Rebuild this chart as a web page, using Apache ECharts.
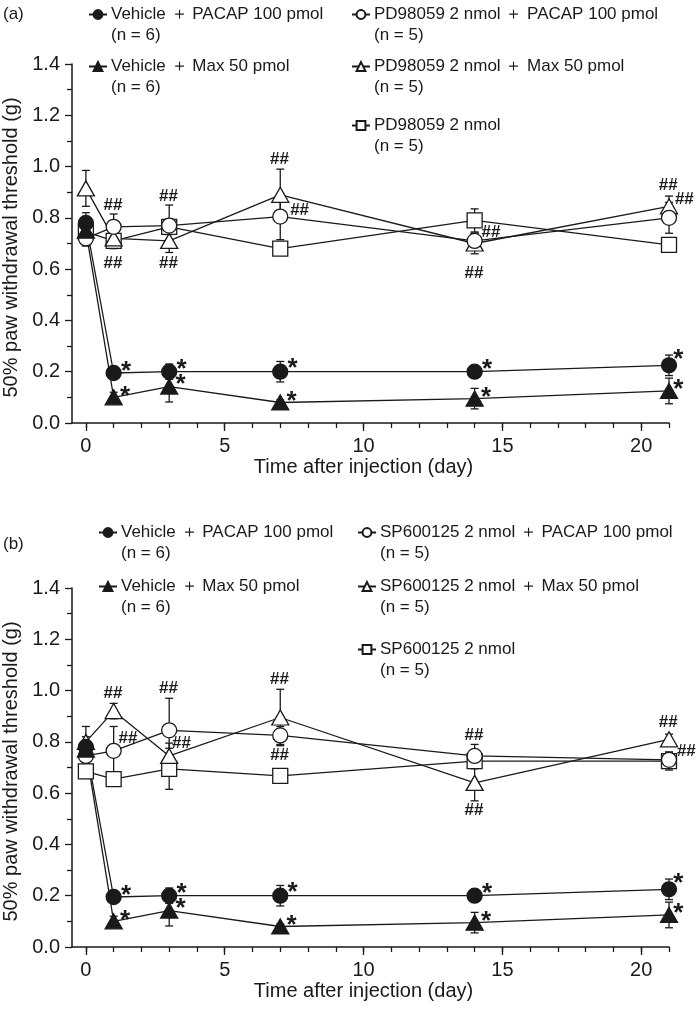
<!DOCTYPE html>
<html>
<head>
<meta charset="utf-8">
<script src="https://cdn.jsdelivr.net/npm/echarts@6/dist/echarts.min.js"></script>
<style>
html,body{margin:0;padding:0;background:#fff;}
#chart{width:700px;height:1009px;}
</style>
</head>
<body>
<div id="chart"></div>
<script>
// ---------- DATA ----------
const days = [0, 1, 3, 7, 14, 21];
const xTickValues = [0,1,2,3,4,5,6,7,8,9,10,11,12,13,14,15,16,17,18,19,20,21];
const xLabelValues = [0, 5, 10, 15, 20];

// Panel (a)
const aVehPacap     = [0.78, 0.195, 0.20, 0.20, 0.20, 0.225];
const aVehPacapErr  = [0.04, 0.02, 0.03, 0.04, 0.02, 0.04];
const aVehMax       = [0.75, 0.10, 0.142, 0.08, 0.095, 0.125];
const aVehMaxErr    = [0.03, 0.02, 0.06, 0.01, 0.04, 0.05];
const aPdPacap      = [0.72, 0.765, 0.77, 0.805, 0.71, 0.80];
const aPdPacapErr   = [0.03, 0.05, 0.08, 0.09, 0.03, 0.06];
const aPdMax        = [0.915, 0.72, 0.71, 0.89, 0.70, 0.845];
const aPdMaxErr     = [0.07, 0.04, 0.045, 0.10, 0.04, 0.04];
const aPd           = [0.745, 0.71, 0.765, 0.68, 0.79, 0.695];
const aPdErr        = [0.03, 0.02, 0.03, 0.02, 0.045, 0.02];

// Panel (b)
const bVehPacap     = [0.78, 0.195, 0.20, 0.20, 0.20, 0.225];
const bVehPacapErr  = [0.04, 0.02, 0.03, 0.04, 0.02, 0.04];
const bVehMax       = [0.77, 0.10, 0.142, 0.08, 0.095, 0.125];
const bVehMaxErr    = [0.03, 0.02, 0.06, 0.01, 0.04, 0.05];
const bSpPacap      = [0.745, 0.765, 0.845, 0.825, 0.745, 0.73];
const bSpPacapErr   = [0.03, 0.095, 0.125, 0.035, 0.045, 0.03];
const bSpMax        = [0.80, 0.92, 0.745, 0.895, 0.64, 0.81];
const bSpMaxErr     = [0.06, 0.03, 0.05, 0.11, 0.07, 0.02];
const bSp           = [0.685, 0.655, 0.695, 0.667, 0.725, 0.725];
const bSpErr        = [0.02, 0.02, 0.08, 0.02, 0.03, 0.035];

// significance marks
const starSig  = ['', '*', '*', '*', '*', '*'];
const hashSig  = ['', '##', '##', '##', '##', '##'];
const noSig    = ['', '', '', '', '', ''];
const bSpSig   = ['', '', '', '', '', '##'];
const bSpPacapSig = ['', '##', '##', '##', '##', ''];

// names
const namesA = ['Vehicle ＋ PACAP 100 pmol', 'Vehicle ＋ Max 50 pmol', 'PD98059 2 nmol ＋ PACAP 100 pmol', 'PD98059 2 nmol ＋ Max 50 pmol', 'PD98059 2 nmol'];
const namesB = ['Vehicle ＋ PACAP 100 pmol', 'Vehicle ＋ Max 50 pmol', 'SP600125 2 nmol ＋ PACAP 100 pmol', 'SP600125 2 nmol ＋ Max 50 pmol', 'SP600125 2 nmol'];
const nA = ['(n = 6)', '(n = 6)', '(n = 5)', '(n = 5)', '(n = 5)'];
const nB = ['(n = 6)', '(n = 6)', '(n = 5)', '(n = 5)', '(n = 5)'];
const yTitle = '50% paw withdrawal threshold (g)';
const xTitle = 'Time after injection (day)';

// ---------- STYLE / LAYOUT ----------
const INK = '#1a1a1a';
const FONT = 'Liberation Sans, Arial, sans-serif';
const gridTop = [64, 588];
const gridH = 359;

// label offsets (pixels, relative to point centre) for significance marks
const starOffC = [[0,0],[13,-1],[13,-1],[13,-2],[13,-1],[10,-5]];
const starOffT = [[0,0],[12,0],[12,-1],[12,0],[12,0],[10,-1]];
const offA_circ = [[0,0],[0,-21],[0,-29],[20,-6],[17,-8],[16,-18]];
const offA_tri  = [[0,0],[0,26],[0,23],[0,-35],[0,30],[0,-20]];
const offB_circ = [[0,0],[15,-12],[0,-41],[0,21],[0,-20],[0,0]];
const offB_tri  = [[0,0],[0,-17],[13,-12],[0,-38],[0,28],[0,-16]];
const offB_sq   = [[0,0],[0,0],[0,0],[0,0],[0,0],[18,-9]];
const zeroOff = days.map(() => [0,0]);

const symbols = [
  {symbol: 'circle', size: 15, fill: INK},
  {symbol: 'triangle', size: [17, 15], fill: INK},
  {symbol: 'circle', size: 15, fill: '#fff'},
  {symbol: 'triangle', size: [17, 15], fill: '#fff'},
  {symbol: 'rect', size: 15, fill: '#fff'}
];

function buildLine(name, vals, sig, offs, sym, panel, isStar) {
  const sz = Array.isArray(sym.size) ? sym.size : [sym.size, sym.size];
  return {
    type: 'line', name: name,
    xAxisIndex: panel * 2, yAxisIndex: panel,
    symbol: sym.symbol, symbolSize: sym.size,
    itemStyle: {color: sym.fill, borderColor: INK, borderWidth: 1.3, opacity: 1},
    lineStyle: {color: INK, width: 1.3},
    z: 3, animation: false,
    data: days.map((d, i) => {
      const item = {value: [d, vals[i]]};
      if (sig[i]) {
        item.label = {
          show: true, formatter: sig[i],
          position: [sz[0] / 2 + offs[i][0], sz[1] / 2 + offs[i][1]],
          align: 'center', verticalAlign: 'middle',
          fontFamily: FONT, fontWeight: 'bold',
          fontSize: isStar ? 26 : 17, color: INK
        };
      }
      return item;
    })
  };
}

function buildErr(vals, errs, panel) {
  return {
    type: 'custom', xAxisIndex: panel * 2, yAxisIndex: panel, z: 2, silent: true,
    animation: false,
    renderItem: function (params, api) {
      const x = api.value(0), y = api.value(1), e = api.value(2);
      const t = api.coord([x, y + e]);
      const b = api.coord([x, y - e]);
      const c = 4;
      const st = {stroke: INK, lineWidth: 1.3};
      return {type: 'group', children: [
        {type: 'line', shape: {x1: t[0], y1: t[1], x2: b[0], y2: b[1]}, style: st},
        {type: 'line', shape: {x1: t[0] - c, y1: t[1], x2: t[0] + c, y2: t[1]}, style: st},
        {type: 'line', shape: {x1: b[0] - c, y1: b[1], x2: b[0] + c, y2: b[1]}, style: st}
      ]};
    },
    encode: {x: 0, y: 1},
    data: days.map((d, i) => [d, vals[i], errs[i]])
  };
}

const panelsData = [
  {names: namesA, ns: nA, vals: [aVehPacap, aVehMax, aPdPacap, aPdMax, aPd], errs: [aVehPacapErr, aVehMaxErr, aPdPacapErr, aPdMaxErr, aPdErr],
   sigs: [starSig, starSig, hashSig, hashSig, noSig], offs: [starOffC, starOffT, offA_circ, offA_tri, zeroOff], tag: '(a)'},
  {names: namesB, ns: nB, vals: [bVehPacap, bVehMax, bSpPacap, bSpMax, bSp], errs: [bVehPacapErr, bVehMaxErr, bSpPacapErr, bSpMaxErr, bSpErr],
   sigs: [starSig, starSig, bSpPacapSig, hashSig, bSpSig], offs: [starOffC, starOffT, offB_circ, offB_tri, offB_sq], tag: '(b)'}
];

const grids = [], xAxes = [], yAxes = [], series = [], legends = [], graphics = [];
// legend layout: [markerLeft, row top] for each series, per panel (absolute)
const legPos = [
  [[88, 6], [88, 58], [351, 6], [351, 58], [351, 117]],
  [[98, 524], [98, 578], [357, 524], [357, 578], [357, 641]]
];
const tagTop = [6, 536];

panelsData.forEach((P, p) => {
  grids.push({left: 72, right: 31, top: gridTop[p], height: gridH, outerBoundsMode: 'none', containLabel: false});
  xAxes.push({
    type: 'value', gridIndex: p, min: -0.5, max: 21,
    name: xTitle, nameLocation: 'middle', nameGap: 34,
    nameTextStyle: {fontFamily: FONT, fontSize: 20, color: INK, padding: [0, 14, 0, 0]},
    axisLine: {show: true, onZero: false, lineStyle: {color: INK, width: 1.5}},
    axisTick: {show: true, inside: false, length: 8, customValues: xLabelValues, lineStyle: {color: INK, width: 1.3}},
    axisLabel: {show: true, customValues: xLabelValues, margin: 13, fontFamily: FONT, fontSize: 20, color: INK},
    splitLine: {show: false}
  });
  xAxes.push({
    type: 'value', gridIndex: p, min: -0.5, max: 21, position: 'bottom',
    axisLine: {show: false, onZero: false},
    axisTick: {show: true, inside: false, length: 5, customValues: xTickValues, lineStyle: {color: INK, width: 1.3}},
    axisLabel: {show: false},
    splitLine: {show: false}
  });
  yAxes.push({
    type: 'value', gridIndex: p, min: 0, max: 1.4, interval: 0.2,
    name: yTitle, nameLocation: 'middle', nameGap: 45, nameRotate: 90,
    nameTextStyle: {fontFamily: FONT, fontSize: 20, color: INK, padding: [0, 8, 0, 0]},
    axisLine: {show: true, onZero: false, lineStyle: {color: INK, width: 1.5}},
    axisTick: {show: true, inside: false, length: 7, lineStyle: {color: INK, width: 1.3}},
    minorTick: {show: true, splitNumber: 2, length: 5, lineStyle: {color: INK, width: 1.3}},
    axisLabel: {margin: 12, fontFamily: FONT, fontSize: 20, color: INK, formatter: v => v.toFixed(1)},
    splitLine: {show: false}
  });

  const order = [4, 3, 2, 1, 0];
  order.forEach(k => series.push(buildErr(P.vals[k], P.errs[k], p)));
  order.forEach(k => series.push(buildLine(P.names[k], P.vals[k], P.sigs[k], P.offs[k], symbols[k], p, k < 2)));

  P.names.forEach((nm, k) => {
    const lp = legPos[p][k];
    legends.push({
      data: [nm], left: lp[0], top: lp[1],
      itemWidth: 18, itemHeight: 11, itemGap: 5, selectedMode: false,
      padding: 0,
      textStyle: {fontFamily: FONT, fontSize: 17, color: INK, padding: [0, 0, 0, -1]}
    });
    graphics.push({
      type: 'text', left: lp[0] + 23, top: lp[1] + 20.5,
      style: {text: P.ns[k], fontFamily: FONT, fontSize: 17, fill: INK}
    });
  });
  graphics.push({
    type: 'text', left: 3, top: tagTop[p],
    style: {text: P.tag, fontFamily: FONT, fontSize: 17, fill: INK}
  });
});

const chart = echarts.init(document.getElementById('chart'), null, {renderer: 'canvas'});
chart.setOption({
  backgroundColor: '#fff',
  animation: false,
  grid: grids, xAxis: xAxes, yAxis: yAxes,
  legend: legends, series: series, graphic: graphics
});
</script>
</body>
</html>
